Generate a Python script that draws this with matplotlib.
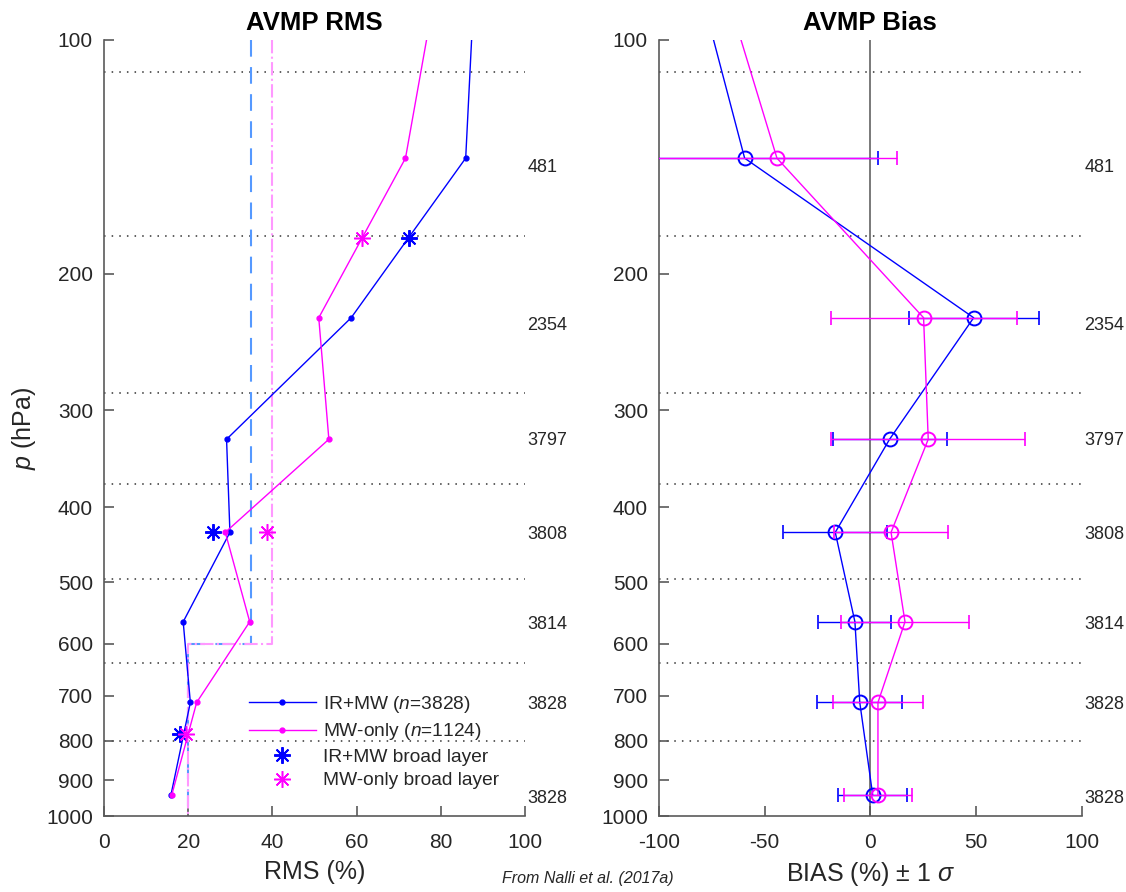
import numpy as np
import matplotlib
matplotlib.use('Agg')
import matplotlib.pyplot as plt

plt.rcParams['font.family'] = ['Liberation Sans', 'DejaVu Sans']
plt.rcParams['mathtext.fontset'] = 'custom'
plt.rcParams['mathtext.rm'] = 'Liberation Sans'
plt.rcParams['mathtext.it'] = 'Liberation Sans:italic'
plt.rcParams['axes.unicode_minus'] = False

# pressure levels (hPa); first entry is the 100 hPa top where the lines leave the plot
p_lev = [100, 142, 228, 327, 431, 562, 714, 939]
rms_irmw = [87.3, 85.9, 58.7, 29.1, 29.9, 18.8, 20.5, 15.9]
rms_mw = [76.6, 71.6, 51.0, 53.4, 28.8, 34.6, 22.0, 16.1]

broad_p = [180, 431, 785]
broad_irmw = [72.5, 25.8, 18.1]
broad_mw = [61.3, 38.8, 19.4]

bias_irmw = [-74.2, -59.5, 48.9, 9.1, -16.6, -7.3, -5.0, 1.1]
bias_mw = [-61.2, -44.2, 25.2, 27.4, 9.8, 16.4, 3.6, 3.6]
sd_irmw = [63.3, 30.8, 27.0, 24.5, 17.3, 20.2, 16.2]
sd_mw = [56.8, 44.0, 45.8, 27.0, 30.4, 21.5, 15.9]

counts = [481, 2354, 3797, 3808, 3814, 3828, 3828]
count_p = [146, 233, 328, 434, 567, 719, 948]
layer_bounds = [110, 179, 285, 373, 495, 636, 800]

# requirement thresholds
req_split = 600
req_upper_irmw = 35
req_upper_mw = 40
req_lower = 20

yticks = [100, 200, 300, 400, 500, 600, 700, 800, 900, 1000]

c_blue = '#0000ff'
c_mag = '#ff00ff'
axcol = '#5a5a5a'
txtcol = '#262626'

fig = plt.figure(figsize=(11.26, 8.92), dpi=100)
ax1 = fig.add_axes([0.0924, 0.0852, 0.3739, 0.870])
ax2 = fig.add_axes([0.5853, 0.0852, 0.3753, 0.870])


def style_axis(ax, xlim, xticks):
    ax.set_yscale('log')
    ax.set_ylim(1000, 100)
    ax.set_yticks(yticks)
    ax.set_yticklabels([str(t) for t in yticks])
    ax.minorticks_off()
    ax.set_xlim(*xlim)
    ax.set_xticks(xticks)
    for s in ['top', 'right']:
        ax.spines[s].set_visible(False)
    for s in ['left', 'bottom']:
        ax.spines[s].set_color(axcol)
        ax.spines[s].set_linewidth(1.2)
    ax.tick_params(direction='in', length=7, width=1.2, color=axcol,
                   labelsize=15, labelcolor=txtcol)
    ax.tick_params(axis='y', pad=8)
    ax.tick_params(axis='x', pad=12)
    for pb in layer_bounds:
        ax.axhline(pb, color='#333333', lw=1.1, ls=(0, (1, 4)), zorder=1)


# ---- left panel: RMS
style_axis(ax1, (0, 100), [0, 20, 40, 60, 80, 100])
ax1.plot([req_upper_irmw, req_upper_irmw, req_lower, req_lower],
         [100, req_split, req_split, 1000], color='#5599ff', lw=1.5,
         ls=(0, (8, 5)), zorder=2)
ax1.plot([req_upper_mw, req_upper_mw, req_lower, req_lower],
         [100, req_split, req_split, 1000], color='#ff99ff', lw=1.5,
         ls='-.', zorder=2)

ax1.plot(rms_irmw, p_lev, color=c_blue, lw=1, marker='o', ms=3.5,
         markevery=list(range(1, len(p_lev))), label='IR+MW ($n$=3828)', zorder=4)
ax1.plot(rms_mw, p_lev, color=c_mag, lw=1, marker='o', ms=3.5,
         markevery=list(range(1, len(p_lev))), label='MW-only ($n$=1124)', zorder=4)
ax1.plot(broad_irmw, broad_p, ls='none', marker=(8, 2, 0), ms=12, mew=1.4,
         color=c_blue, label='IR+MW broad layer', zorder=5)
ax1.plot(broad_mw, broad_p, ls='none', marker=(8, 2, 0), ms=12, mew=1.1,
         color=c_mag, label='MW-only broad layer', zorder=5)

leg = ax1.legend(loc='lower right', bbox_to_anchor=(0.98, 0.012), frameon=False,
                 fontsize=13.8, handlelength=3.5, handletextpad=0.4,
                 labelspacing=0.32)
for t in leg.get_texts():
    t.set_color(txtcol)

ax1.set_title('AVMP RMS', fontsize=18.5, fontweight='bold', pad=7)
ax1.set_xlabel('RMS (%)', fontsize=18, color=txtcol, labelpad=6)
ax1.set_ylabel('$p$ (hPa)', fontsize=18, color=txtcol, labelpad=6)

for n, p in zip(counts, count_p):
    ax1.text(100.6, p, str(n), fontsize=13, color=txtcol, va='center',
             ha='left', clip_on=False)

# ---- right panel: bias
style_axis(ax2, (-100, 100), [-100, -50, 0, 50, 100])
ax2.axvline(0, color='#555555', lw=1.1, zorder=2)

ax2.plot(bias_irmw, p_lev, color=c_blue, lw=1, marker='o', ms=10, mfc='none',
         mew=1.4, markevery=list(range(1, len(p_lev))), zorder=4)
ax2.errorbar(bias_irmw[1:], p_lev[1:], xerr=sd_irmw, fmt='none', ecolor=c_blue,
             elinewidth=1, capsize=5, capthick=1.2, zorder=4)
ax2.plot(bias_mw, p_lev, color=c_mag, lw=1, marker='o', ms=10, mfc='none',
         mew=1.4, markevery=list(range(1, len(p_lev))), zorder=5)
ax2.errorbar(bias_mw[1:], p_lev[1:], xerr=sd_mw, fmt='none', ecolor=c_mag,
             elinewidth=1, capsize=5, capthick=1.2, zorder=5)

ax2.set_title('AVMP Bias', fontsize=18.5, fontweight='bold', pad=7)
ax2.set_xlabel('BIAS (%) $\\pm$ 1 $\\sigma$', fontsize=18, color=txtcol, labelpad=6)

for n, p in zip(counts, count_p):
    ax2.text(101.2, p, str(n), fontsize=13, color=txtcol, va='center',
             ha='left', clip_on=False)

fig.text(0.522, 0.0146, 'From Nalli et al. (2017a)', fontsize=11.5,
         style='italic', color=txtcol, ha='center', va='center')

fig.savefig('out.png', dpi=100)
